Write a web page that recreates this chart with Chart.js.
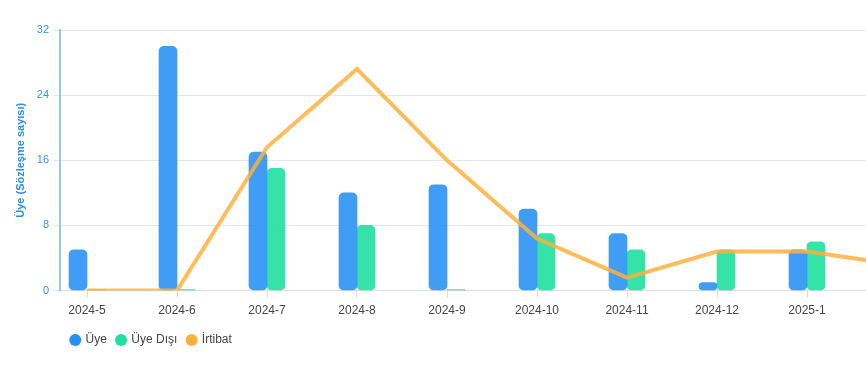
<!DOCTYPE html>
<html>
<head>
<meta charset="utf-8">
<script src="https://cdn.jsdelivr.net/npm/chart.js@4"></script>
<style>
  html, body { margin: 0; padding: 0; background: #fff; overflow: hidden; }
  #wrap { position: relative; width: 960px; height: 376px; }
</style>
</head>
<body>
<div id="wrap"><canvas id="c" width="960" height="376"></canvas></div>
<script>
// ---- data ----
const categories = ['2024-5','2024-6','2024-7','2024-8','2024-9','2024-10','2024-11','2024-12','2025-1','2025-2'];
const uye      = [5, 30, 17, 12, 13, 10, 7, 1, 5, null];
const uyeDisi  = [0, 0, 15, 8, 0, 7, 5, 5, 6, null];
const irtibat  = [0, 0, 11, 17, 10, 4, 1, 3, 3, 2];
const leftTicks = [0, 8, 16, 24, 32];
const seriesNames = ['Üye', 'Üye Dışı', 'İrtibat'];

const BLUE = '#2490f5', GREEN = '#1fe0a0', ORANGE = '#ffb03b';
const BLUE_BAR = 'rgba(36,144,245,0.88)', GREEN_BAR = 'rgba(31,224,160,0.9)', ORANGE_LINE = 'rgba(255,176,59,0.85)';
const solid = [BLUE, GREEN, ORANGE];

const pts = arr => arr.map((v, i) => ({ x: i, y: v }));

const legendShift = {
  id: 'legendShift',
  afterLayout(chart) { if (chart.legend) { chart.legend.left = 61; } }
};

new Chart(document.getElementById('c'), {
  type: 'bar',
  data: {
    datasets: [
      { label: seriesNames[0], data: pts(uye), backgroundColor: BLUE_BAR, borderRadius: 5, borderSkipped: false,
        barThickness: 18, minBarLength: 1, yAxisID: 'y', order: 1 },
      { label: seriesNames[1], data: pts(uyeDisi), backgroundColor: GREEN_BAR, borderRadius: 5, borderSkipped: false,
        barThickness: 18, minBarLength: 1, yAxisID: 'y', order: 1 },
      { type: 'line', label: seriesNames[2], data: pts(irtibat), borderColor: ORANGE_LINE, backgroundColor: ORANGE,
        borderWidth: 4, pointRadius: 0, pointHoverRadius: 0, tension: 0, yAxisID: 'y2', order: 0 }
    ]
  },
  options: {
    responsive: false,
    animation: false,
    maintainAspectRatio: false,
    layout: { padding: { left: 10, right: 0, top: 30, bottom: 20 } },
    plugins: {
      tooltip: { enabled: false },
      legend: {
        position: 'bottom',
        align: 'start',
        labels: {
          usePointStyle: true,
          pointStyle: 'circle',
          boxWidth: 8.5,
          boxHeight: 8.5,
          padding: 10,
          color: '#444',
          font: { size: 12 },
          sort: (a, b) => a.datasetIndex - b.datasetIndex,
          generateLabels: (chart) => chart.data.datasets.map((d, i) => ({
            text: d.label, fillStyle: solid[i], strokeStyle: solid[i], lineWidth: 0,
            pointStyle: 'circle', datasetIndex: i, hidden: false, fontColor: '#444'
          }))
        }
      }
    },
    scales: {
      x: {
        type: 'linear',
        offset: false,
        min: -0.3,
        max: 9.7,
        afterBuildTicks: (s) => { s.ticks = categories.map((_, i) => ({ value: i })); },
        ticks: {
          callback: (v) => categories[v] ?? '',
          color: '#444',
          font: { size: 12 },
          padding: 6,
          autoSkip: false,
          maxRotation: 0
        },
        grid: { offset: false, drawOnChartArea: false, drawTicks: true, tickLength: 7, color: '#dcdcdc' },
        border: { color: '#dcdcdc', width: 1 }
      },
      y: {
        position: 'left',
        min: 0,
        max: 32,
        afterBuildTicks: (s) => { s.ticks = leftTicks.map(v => ({ value: v })); },
        afterFit: (s) => { s.width = 50; },
        ticks: { color: '#3393ee', font: { size: 11 }, padding: 5 },
        grid: { color: '#e6e6e6', tickLength: 6 },
        border: { color: '#93c6f6', width: 2 },
        title: { display: true, text: 'Üye (Sözleşme sayısı)', color: '#2a8cf0', font: { size: 11, weight: 'bold' } }
      },
      y2: {
        position: 'right',
        display: false,
        min: 0,
        max: 20
      }
    }
  },
  plugins: [legendShift]
});
</script>
</body>
</html>
